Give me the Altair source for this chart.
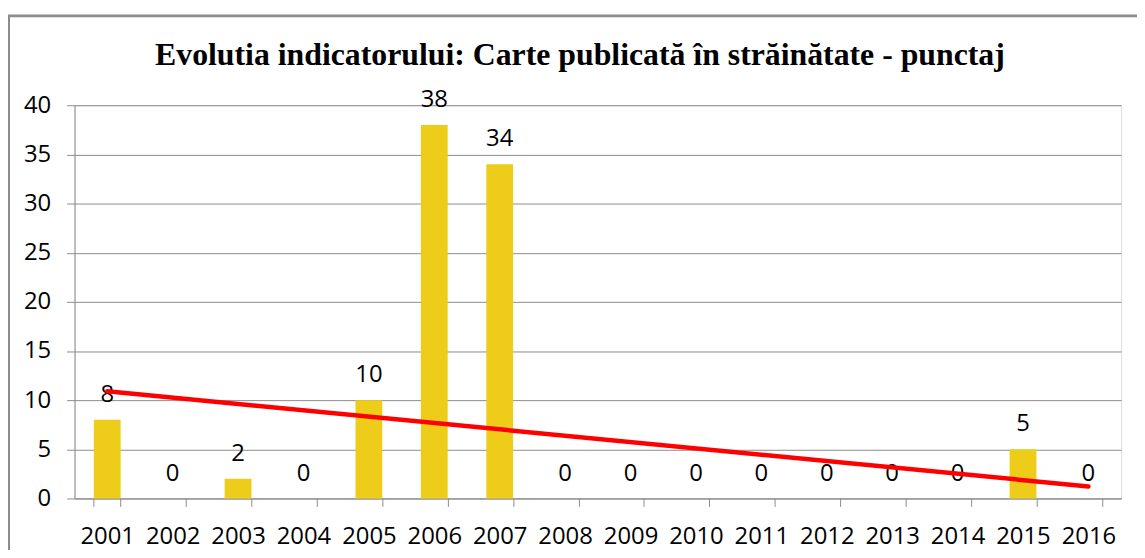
import altair as alt
import pandas as pd

years = [str(y) for y in range(2001, 2017)]
year_num = list(range(2001, 2017))
values = [8, 0, 2, 0, 10, 38, 34, 0, 0, 0, 0, 0, 0, 0, 5, 0]
title_text = "Evolutia indicatorului: Carte publicată în străinătate - punctaj"

df = pd.DataFrame({"year": years, "yn": year_num, "value": values})

W, H = 1054, 396
LABEL_FONT = "Open Sans"
FS = 24

band_scale = alt.Scale(paddingInner=0.59, paddingOuter=0.295)
xaxis = alt.Axis(labelAngle=0, labelFontSize=FS, labelFont=LABEL_FONT,
                 labelColor="black", labelPadding=18, tickBand="extent",
                 tickSize=8, tickColor="#8c8c8c", domainColor="#8c8c8c",
                 labelBaseline="top", title=None)
yscale = alt.Scale(domain=[0, 40], nice=False)
yaxis = alt.Axis(values=list(range(0, 41, 5)), grid=True, gridColor="#8c8c8c",
                 labelFontSize=FS, labelFont=LABEL_FONT, labelColor="black",
                 tickSize=8, tickColor="#8c8c8c", domainColor="#8c8c8c",
                 labelPadding=16, title=None)

base = alt.Chart(df)

border = base.mark_rect(fill=None, stroke="#8c8c8c", strokeWidth=3, clip=False).encode(
    x=alt.value(-66.5), x2=alt.value(W + 40), y=alt.value(-90), y2=alt.value(H + 80)
).transform_filter(alt.datum.yn == 2001)

bars = base.mark_bar(color="#EECD1A").encode(
    x=alt.X("year:N", sort=years, scale=band_scale, axis=xaxis),
    y=alt.Y("value:Q", scale=yscale, axis=yaxis),
)

labels = base.mark_text(fontSize=FS, font=LABEL_FONT, color="black", baseline="alphabetic", dy=-18).encode(
    x=alt.X("year:N", sort=years, scale=band_scale, axis=xaxis),
    y=alt.Y("value:Q", scale=yscale, axis=yaxis),
    text="value:Q",
)

trend = base.mark_line(color="#ff0000", strokeWidth=4.5, strokeCap="round").transform_regression(
    "yn", "value", extent=[2001, 2016]
).encode(
    x=alt.X("yn:Q", scale=alt.Scale(domain=[2000.5, 2016.5], nice=False, zero=False), axis=None),
    y=alt.Y("value:Q", scale=yscale),
)

bars_layer = alt.layer(bars, labels)
chart = alt.layer(border, bars_layer, trend).resolve_scale(x="independent").properties(
    width=W, height=H,
    autosize=alt.AutoSizeParams(type="none"),
    padding={"left": 67, "top": 96, "right": 16, "bottom": 50},
    title=alt.TitleParams(title_text, font="Liberation Serif", fontSize=32, fontWeight="bold",
                          color="black", anchor="middle", dx=-18, offset=-83, baseline="alphabetic"),
).configure_view(stroke=None).configure(background="white")

chart.save("out.html", embed_options={"renderer": "svg", "actions": False})
